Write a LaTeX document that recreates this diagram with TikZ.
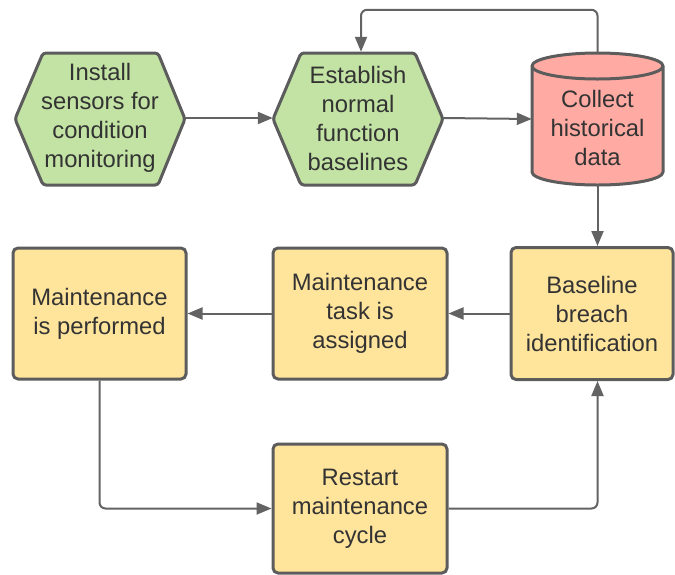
\documentclass[tikz,border=0pt]{standalone}
\usepackage{fontspec}
\setmainfont{Liberation Sans}
\usetikzlibrary{arrows.meta}
\definecolor{hexfill}{HTML}{C2E3A3}
\definecolor{dbfill}{HTML}{FFABA3}
\definecolor{boxfill}{HTML}{FFE49C}
\definecolor{edge}{HTML}{5C5C5C}
\definecolor{wire}{HTML}{636363}
\definecolor{ink}{HTML}{333333}
\tikzset{
  shapeline/.style={draw=edge, line width=3pt, line join=round},
  label/.style={text=ink, align=center, inner sep=0pt,
    font=\fontsize{23.8}{29}\selectfont},
  stepbox/.style={label, shapeline, fill=boxfill, rounded corners=5pt,
    minimum width=173pt, minimum height=131pt},
  hexarea/.style={label, minimum width=170pt, minimum height=132pt},
  flow/.style={draw=wire, line width=2pt, rounded corners=6pt,
    -{Triangle[length=15pt,width=12pt]}},
}
\begin{document}
\begin{tikzpicture}[x=1pt,y=-1pt]
\useasboundingbox (0,0) rectangle (675,574);

% hexagonal start steps
\filldraw[shapeline, fill=hexfill, rounded corners=3pt]
  (15,119) -- (43,53) -- (158,53) -- (185,119) -- (158,185) -- (43,185) -- cycle;
\node[hexarea] (install) at (100,118) {Install\\sensors for\\condition\\monitoring};

\filldraw[shapeline, fill=hexfill, rounded corners=3pt]
  (273,119) -- (301,53) -- (415,53) -- (443,119) -- (415,185) -- (301,185) -- cycle;
\node[hexarea] (baseline) at (358,118) {Establish\\normal\\function\\baselines};

% data store cylinder (y axis points down, so arcs run the other way)
\filldraw[shapeline, fill=dbfill]
  (532,66) -- (532,172) arc[start angle=180, end angle=0, x radius=65.5, y radius=13]
  -- (663,66) arc[start angle=0, end angle=-180, x radius=65.5, y radius=13] -- cycle;
\draw[shapeline] (532,66) arc[start angle=180, end angle=0, x radius=65.5, y radius=13];
\node[label, minimum width=131pt, minimum height=132pt] (collect) at (597.5,119) {};
\node[label] at (597.5,128) {Collect\\historical\\data};

% rectangular steps
\node[stepbox, minimum width=162pt, minimum height=132pt] (breach) at (592,313.5) {Baseline\\breach\\identification};
\node[stepbox, minimum width=174pt] (assign) at (360,313.5) {Maintenance\\task is\\assigned};
\node[stepbox] (perform) at (99.5,313.5) {Maintenance\\is performed};
\node[stepbox, minimum width=174pt, minimum height=129pt] (restart) at (360,508.5) {Restart\\maintenance\\cycle};

% connectors
\draw[flow] (install.east) -- (baseline.west);
\draw[flow] (baseline.east) -- (collect.west);
\draw[flow] (collect.north) -- ++(0,-43) -| ([xshift=3pt]baseline.north);
\draw[flow] (collect.south) -- (collect.south |- breach.north);
\draw[flow] (breach.west) -- (assign.east);
\draw[flow] (assign.west) -- (perform.east);
\draw[flow] (perform.south) |- (restart.west);
\draw[flow] (restart.east) -| (collect.south |- breach.south);
\end{tikzpicture}
\end{document}
